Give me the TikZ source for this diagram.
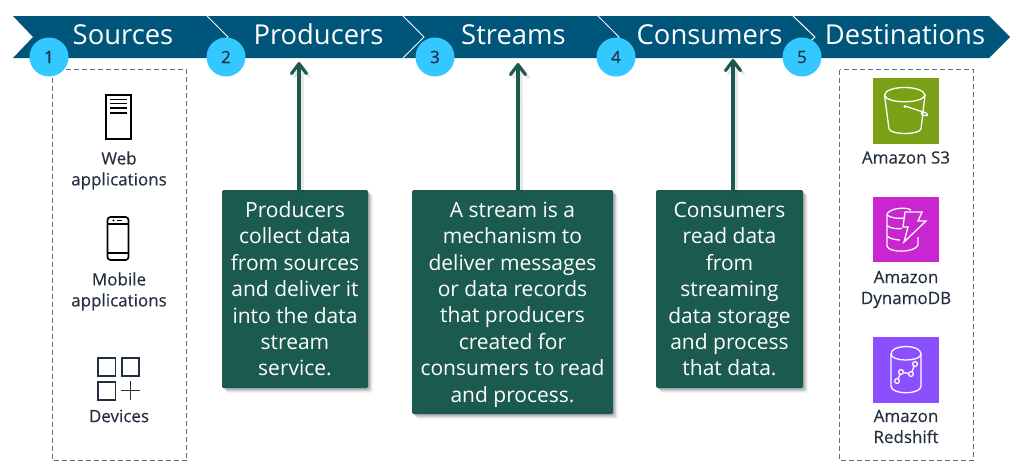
\documentclass[tikz,border=0pt]{standalone}
\usepackage{fontspec}
\setmainfont{Open Sans}
\newfontfamily\labelfont[FakeBold=0.25]{Open Sans}
\newcommand\firstline{\rule{0pt}{23.5pt}}
\usetikzlibrary{arrows.meta,shadows,calc}
\definecolor{band}{HTML}{00567A}
\definecolor{bubble}{HTML}{33C8FF}
\definecolor{ink}{HTML}{232F3E}
\definecolor{note}{HTML}{1B5A4E}
\definecolor{dashc}{HTML}{5A6B86}
\definecolor{sthree}{HTML}{7AA116}
\definecolor{dynamo}{HTML}{C925D1}
\definecolor{redsh}{HTML}{8C4FFF}
\tikzset{
  x=1pt,y=-1pt,
  headlabel/.style={text=white,font=\fontsize{27.4}{30}\selectfont,inner sep=0pt,anchor=center},
  bubblenode/.style={circle,fill=bubble,minimum size=39pt,inner sep=0pt,text=ink,font=\labelfont\fontsize{17}{18}\selectfont},
  notebox/.style={fill=note,rounded corners=1.5pt,text=white,align=center,inner sep=0pt,
    font=\fontsize{21}{26.4}\selectfont,
    drop shadow={shadow xshift=4.5pt,shadow yshift=-4.5pt,opacity=.08,fill=black},
    drop shadow={shadow xshift=3pt,shadow yshift=-3pt,opacity=.12,fill=black},
    drop shadow={shadow xshift=1.5pt,shadow yshift=-1.5pt,opacity=.15,fill=black}},
  grouprect/.style={draw=dashc,line width=1pt,dash pattern=on 5pt off 3pt},
  smalllabel/.style={text=ink,align=center,inner sep=0pt,font=\labelfont\fontsize{17}{21}\selectfont},
  uparrow/.style={draw=note,line width=3.2pt,-{Straight Barb[length=10pt,width=15pt,line width=3.2pt,round]}},
  upshadow/.style={draw=black,opacity=.09,line width=3.2pt,-{Straight Barb[length=10pt,width=15pt,line width=3.2pt,round]}},
  iconline/.style={draw=black,line width=1.7pt},
  inkline/.style={draw=ink,line width=1.8pt},
  awsline/.style={draw=white,line width=1.3pt},
}
\begin{document}
\begin{tikzpicture}
\useasboundingbox (0,0) rectangle (1012,469);
% band
\fill[band] (13,16) -- (207,16) -- (228,37) -- (207,58) -- (13,58) -- (33,37) -- cycle;
\fill[band] (207,16) -- (403,16) -- (424,37) -- (403,58) -- (207,58) -- (228,37) -- cycle;
\fill[band] (403,16) -- (598,16) -- (619,37) -- (598,58) -- (403,58) -- (424,37) -- cycle;
\fill[band] (598,16) -- (793,16) -- (815,37) -- (793,58) -- (598,58) -- (619,37) -- cycle;
\fill[band] (793,16) -- (989,16) -- (1010,37) -- (989,58) -- (793,58) -- (815,37) -- cycle;
\draw[white,line width=1pt] (207,16) -- (228,37) -- (207,58);
\draw[white,line width=1pt] (403,16) -- (424,37) -- (403,58);
\draw[white,line width=1pt] (598,16) -- (619,37) -- (598,58);
\draw[white,line width=1pt] (793,16) -- (815,37) -- (793,58);
\node[headlabel] (hsources) at (123,34.7) {Sources};
\node[headlabel] (hproducers) at (318.5,34.7) {Producers};
\node[headlabel] (hstreams) at (513.5,34.7) {Streams};
\node[headlabel] (hconsumers) at (709.5,34.7) {Consumers};
\node[headlabel] (hdest) at (905,34.7) {Destinations};
% dashed groups
\draw[grouprect] (52.5,69.5) rectangle (186.5,460.5);
\draw[grouprect] (839.5,69.5) rectangle (973.5,460);
% bubbles
\node[bubblenode] (n1) at (49,57) {1};
\node[bubblenode] (n2) at (226,57) {2};
\node[bubblenode] (n3) at (435,57) {3};
\node[bubblenode] (n4) at (616,57) {4};
\node[bubblenode] (n5) at (802,57) {5};
% note boxes
\node[notebox,minimum width=146pt,minimum height=198pt] (producers) at (295,289)
  {\firstline Producers\\collect data\\from sources\\and deliver it\\into the data\\stream\\service.\strut};
\node[notebox,minimum width=201pt,minimum height=224pt] (stream) at (512.5,302)
  {\firstline A stream is a\\mechanism to\\deliver messages\\or data records\\that producers\\created for\\consumers to read\\and process.\strut};
\node[notebox,minimum width=147pt,minimum height=198pt] (consumers) at (729.5,289)
  {\firstline Consumers\\read data\\from\\streaming\\data storage\\and process\\that data.\strut};
% arrows
\coordinate (tipa) at (299,62);
\coordinate (tipb) at (518,63);
\coordinate (tipc) at (733,59);
\draw[upshadow] ($(producers.north)+(7,3)$) -- ($(tipa)+(3,3)$);
\draw[upshadow] ($(stream.north)+(9,3)$) -- ($(tipb)+(3,3)$);
\draw[upshadow] ($(consumers.north)+(6.5,3)$) -- ($(tipc)+(3,3)$);
\draw[uparrow] (producers.north -| tipa) -- (tipa);
\draw[uparrow] (stream.north -| tipb) -- (tipb);
\draw[uparrow] (consumers.north -| tipc) -- (tipc);
% web icon
\draw[iconline] (106,95) rectangle (131,139);
\draw[iconline,line width=1.5pt] (110,99.5) -- (127,99.5) (110,103.5) -- (127,103.5) (110,108) -- (127,108) (110,113) -- (127,113);
\node[smalllabel] (web) at (119,170.5) {Web\\applications};
% mobile icon
\draw[iconline,rounded corners=3pt] (107.5,217) rectangle (128.5,260);
\draw[iconline,line width=1.2pt] (107.5,224) -- (128.5,224) (107.5,253) -- (128.5,253);
\fill (113.5,220.5) circle (1.2pt);
\draw[black,line width=1pt] (117,220.5) -- (122,220.5);
\node[smalllabel] (mobile) at (119,291.5) {Mobile\\applications};
% devices icon
\draw[inkline] (98,358) rectangle (115.5,376);
\draw[inkline] (122,358) rectangle (139,376);
\draw[inkline] (98,382) rectangle (115.5,400);
\draw[inkline] (121,390.5) -- (140,390.5) (130.5,381) -- (130.5,400);
\node[smalllabel] (devices) at (119,416) {Devices};
% S3
\fill[sthree] (873,78) rectangle (939,144);
\begin{scope}[awsline]
\draw (884.5,95) .. controls (886,85) and (923,85) .. (925,95) .. controls (923,104) and (886,104) .. (884.5,95);
\draw (884.5,95) -- (889,129) .. controls (891,135) and (919,135) .. (921,129) -- (925,95);
\draw (905,106) -- (926,113) .. controls (929,115) and (927,116) .. (924,115.5) .. controls (921,115) and (921,113) .. (922,111.5);
\fill[white] (905,106.5) circle (1.6pt);
\end{scope}
\node[smalllabel] (s3) at (906,157.5) {Amazon S3};
% DynamoDB
\fill[dynamo] (873,197) rectangle (939,262);
\begin{scope}[awsline]
\draw (887,215) .. controls (887,209) and (905,206) .. (911,210);
\draw (887,215) .. controls (890,218) and (900,219) .. (904,218);
\draw (887,215) -- (887,246) .. controls (888,253) and (915,253) .. (918,245) -- (918,237);
\draw (887,225.5) .. controls (890,228.5) and (897,229) .. (902,228.5);
\draw (887,236) .. controls (890,239) and (897,240) .. (900,240);
\draw (905,212) -- (922,212) -- (918,221) -- (926,221) -- (904,242) -- (908,227) -- (903,227) -- cycle;
\end{scope}
\node[smalllabel] (ddb) at (906,289.5) {Amazon\\DynamoDB};
% Redshift
\fill[redsh] (873,337) rectangle (939,403);
\begin{scope}[awsline]
\draw (891,354) .. controls (891,344) and (921,344) .. (921,354) .. controls (921,362) and (891,362) .. (891,354);
\draw (891,354) -- (891,386) .. controls (891,395) and (921,395) .. (921,386) -- (921,354);
\draw (897,381) circle (2.4pt) (901,372) circle (2.4pt) (911,374) circle (2.4pt) (915,364) circle (2.4pt);
\draw (898,379) -- (900,374.3) (903.4,372.5) -- (908.7,373.5) (912,371.8) -- (914,366.2);
\end{scope}
\node[smalllabel] (red) at (906,426.5) {Amazon\\Redshift};
\end{tikzpicture}
\end{document}
